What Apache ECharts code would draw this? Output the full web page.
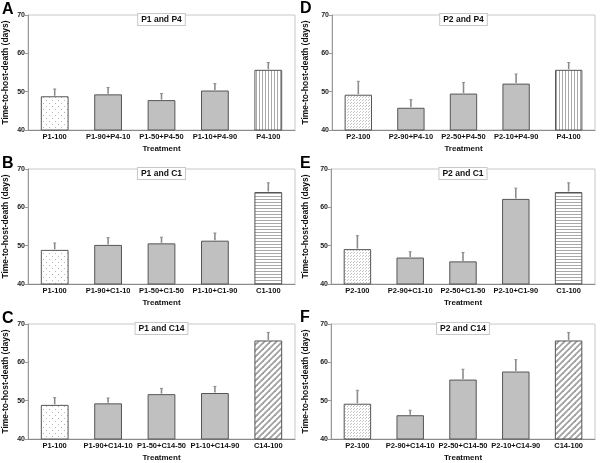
<!DOCTYPE html>
<html><head><meta charset="utf-8">
<script src="https://cdn.jsdelivr.net/npm/echarts@6/dist/echarts.min.js"></script>
<style>html,body{margin:0;padding:0;background:#fff}#c{width:600px;height:463px}</style>
</head><body><div id="c"></div>
<script>
// ---- data ----
const catsA = ['P1-100','P1-90+P4-10','P1-50+P4-50','P1-10+P4-90','P4-100'];
const meanA = [48.8, 49.3, 47.8, 50.3, 55.7];
const upperA = [50.7, 51.1, 49.5, 52.1, 57.6];

const catsB = ['P1-100','P1-90+C1-10','P1-50+C1-50','P1-10+C1-90','C1-100'];
const meanB = [48.9, 50.2, 50.6, 51.3, 64.0];
const upperB = [50.7, 52.1, 52.2, 53.3, 66.4];

const catsC = ['P1-100','P1-90+C14-10','P1-50+C14-50','P1-10+C14-90','C14-100'];
const meanC = [48.9, 49.3, 51.7, 52.0, 65.7];
const upperC = [50.8, 50.7, 53.2, 53.7, 67.8];

const catsD = ['P2-100','P2-90+P4-10','P2-50+P4-50','P2-10+P4-90','P4-100'];
const meanD = [49.2, 45.8, 49.5, 52.1, 55.7];
const upperD = [52.7, 47.9, 52.4, 54.6, 57.6];

const catsE = ['P2-100','P2-90+C1-10','P2-50+C1-50','P2-10+C1-90','C1-100'];
const meanE = [49.1, 46.9, 45.9, 62.2, 64.0];
const upperE = [52.6, 48.4, 48.2, 65.0, 66.4];

const catsF = ['P2-100','P2-90+C14-10','P2-50+C14-50','P2-10+C14-90','C14-100'];
const meanF = [49.2, 46.2, 55.5, 57.6, 65.7];
const upperF = [52.7, 47.5, 58.2, 60.7, 67.8];

const panelTitles = ['P1 and P4','P1 and C1','P1 and C14','P2 and P4','P2 and C1','P2 and C14'];
const panelLetters = ['A','B','C','D','E','F'];
const yTicks = [40, 50, 60, 70];
const xName = 'Treatment';
const yName = 'Time-to-host-death (days)';

// ---- patterns (style only) ----
function makePattern(w, h, draw) {
  const c = document.createElement('canvas');
  c.width = w; c.height = h;
  const ctx = c.getContext('2d');
  ctx.fillStyle = '#ffffff'; ctx.fillRect(0, 0, w, h);
  draw(ctx);
  return { image: c, repeat: 'repeat' };
}
const sparseDots = makePattern(6, 6, ctx => {
  ctx.fillStyle = '#b5b5b5';
  ctx.fillRect(1, 1, 1, 1); ctx.fillRect(4, 4, 1, 1);
});
const denseDots = makePattern(3, 3, ctx => {
  ctx.fillStyle = '#c4c4c4';
  ctx.fillRect(0, 0, 1, 1); ctx.fillRect(2, 1, 1, 1);
});
const vLines = makePattern(3, 4, ctx => {
  ctx.fillStyle = '#a8a8a8'; ctx.fillRect(1, 0, 1, 4);
});
const hLines = makePattern(4, 3, ctx => {
  ctx.fillStyle = '#a8a8a8'; ctx.fillRect(0, 1, 4, 1);
});
const diag = makePattern(6, 6, ctx => {
  ctx.strokeStyle = '#a0a0a0'; ctx.lineWidth = 1.8;
  [[0,6,6,0],[-3,3,3,-3],[3,9,9,3]].forEach(([a,b,c2,d]) => {
    ctx.beginPath(); ctx.moveTo(a,b); ctx.lineTo(c2,d); ctx.stroke();
  });
});
const solidGray = '#c0c0c0';

const panels = [
  { cats: catsA, mean: meanA, upper: upperA, fills: [sparseDots, solidGray, solidGray, solidGray, vLines] },
  { cats: catsB, mean: meanB, upper: upperB, fills: [sparseDots, solidGray, solidGray, solidGray, hLines] },
  { cats: catsC, mean: meanC, upper: upperC, fills: [sparseDots, solidGray, solidGray, solidGray, diag] },
  { cats: catsD, mean: meanD, upper: upperD, fills: [denseDots, solidGray, solidGray, solidGray, vLines] },
  { cats: catsE, mean: meanE, upper: upperE, fills: [denseDots, solidGray, solidGray, solidGray, hLines] },
  { cats: catsF, mean: meanF, upper: upperF, fills: [denseDots, solidGray, solidGray, solidGray, diag] }
];

// layout of each panel's plot area
const boxes = [
  { left: 28, top: 15, width: 267, height: 115, yGap: 18 },
  { left: 28, top: 169, width: 267, height: 115, yGap: 18 },
  { left: 28, top: 324, width: 267, height: 115, yGap: 18 },
  { left: 332, top: 15, width: 263, height: 115, yGap: 22 },
  { left: 331, top: 169, width: 264, height: 115, yGap: 21 },
  { left: 331, top: 324, width: 264, height: 115, yGap: 21 }
];
const letterPos = [[2, 10], [2, 164], [2, 319], [300, 9], [300, 164], [300, 318]];

const FF = '"Liberation Sans", Arial, Helvetica, sans-serif';
const grids = [], xAxes = [], yAxes = [], series = [], graphics = [];

panels.forEach((p, i) => {
  const b = boxes[i];
  grids.push({ left: b.left, top: b.top, width: b.width, height: b.height,
    show: true, borderColor: '#c8c8c8', borderWidth: 1, backgroundColor: 'transparent' });
  xAxes.push({ type: 'category', gridIndex: i, data: p.cats,
    axisLine: { show: true, lineStyle: { color: '#8a8a8a', width: 1 } },
    axisTick: { show: false },
    axisLabel: { interval: 0, fontSize: 7.5, fontWeight: 'bold', color: '#111', margin: 3, fontFamily: FF },
    name: xName, nameLocation: 'middle', nameGap: 15,
    nameTextStyle: { fontSize: 8, fontWeight: 'bold', color: '#111', fontFamily: FF } });
  yAxes.push({ type: 'value', gridIndex: i, min: yTicks[0], max: yTicks[yTicks.length - 1], interval: 10,
    axisLine: { show: true, lineStyle: { color: '#9a9a9a', width: 1 } },
    axisTick: { show: true, length: 3, lineStyle: { color: '#9a9a9a' } },
    axisLabel: { fontSize: 7, fontWeight: 'bold', color: '#222', margin: 3, fontFamily: FF },
    splitLine: { show: false },
    name: yName, nameLocation: 'middle', nameGap: b.yGap,
    nameTextStyle: { fontSize: 8.5, fontWeight: 'bold', color: '#111', fontFamily: FF } });
  series.push({ type: 'bar', xAxisIndex: i, yAxisIndex: i, barWidth: '52%',
    data: p.mean.map((v, k) => ({ value: v, itemStyle: { color: p.fills[k] } })),
    itemStyle: { borderColor: '#555', borderWidth: 1 }, silent: true, z: 2 });
  series.push({ type: 'custom', xAxisIndex: i, yAxisIndex: i, z: 3, silent: true,
    data: p.mean.map((v, k) => [k, v, p.upper[k]]),
    renderItem: (params, api) => {
      const x = api.value(0);
      const a = api.coord([x, api.value(1)]);
      const t = api.coord([x, api.value(2)]);
      return { type: 'group', children: [
        { type: 'line', shape: { x1: a[0], y1: a[1] - 0.5, x2: t[0], y2: t[1] }, style: { stroke: '#8c8c8c', lineWidth: 1.6 } },
        { type: 'line', shape: { x1: t[0] - 1.5, y1: t[1], x2: t[0] + 1.5, y2: t[1] }, style: { stroke: '#8c8c8c', lineWidth: 1 } }
      ] };
    } });
  graphics.push({ type: 'text', x: b.left + b.width / 2, y: b.top - 1, z: 10,
    style: { text: panelTitles[i], align: 'center', verticalAlign: 'top',
      font: 'bold 8.5px ' + FF, fill: '#111', backgroundColor: '#fff',
      borderColor: '#c8c8c8', borderWidth: 1, padding: [1, 3, 1, 3] } });
  graphics.push({ type: 'text', x: letterPos[i][0], y: letterPos[i][1], z: 10,
    style: { text: panelLetters[i], align: 'left', verticalAlign: 'middle',
      font: 'bold 16px ' + FF, fill: '#000' } });
});

const chart = echarts.init(document.getElementById('c'), null, { renderer: 'canvas' });
chart.setOption({
  animation: false,
  backgroundColor: '#fff',
  grid: grids, xAxis: xAxes, yAxis: yAxes, series: series, graphic: graphics
});
</script></body></html>
